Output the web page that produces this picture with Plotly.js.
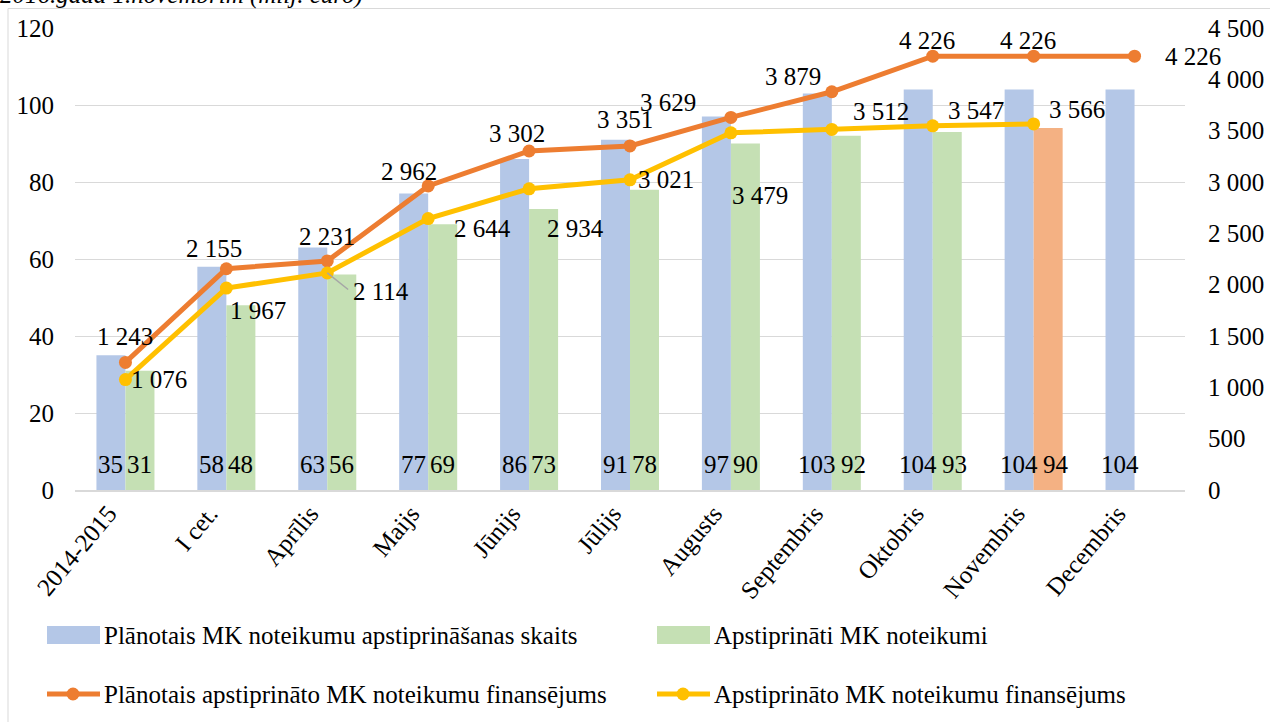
<!DOCTYPE html>
<html>
<head>
<meta charset="utf-8">
<script src="https://cdn.plot.ly/plotly-3.0.1.min.js"></script>
<style>
html,body{margin:0;padding:0;background:#fff;}
#chart{width:1270px;height:722px;}
</style>
</head>
<body>
<div id="chart"></div>
<script>
// ---- data ----
const categories = ["2014-2015","I cet.","Aprīlis","Maijs","Jūnijs","Jūlijs","Augusts","Septembris","Oktobris","Novembris","Decembris"];
const plannedCount = [35,58,63,77,86,91,97,103,104,104,104];
const approvedCount = [31,48,56,69,73,78,90,92,93,94,null];
const plannedFinance = [1243,2155,2231,2962,3302,3351,3629,3879,4226,4226,4226];
const approvedFinance = [1076,1967,2114,2644,2934,3021,3479,3512,3547,3566,null];
const seriesNames = ["Plānotais MK noteikumu apstiprināšanas skaits","Apstiprināti MK noteikumi","Plānotais apstiprināto MK noteikumu finansējums","Apstiprināto MK noteikumu finansējums"];
const topNote = "2016.gada 1.novembrim (milj. euro)";

// ---- label placement (pixel offsets) ----
const plannedFinLabelShift = [[0,26],[-12,20],[0,24],[-19,14],[-12,17],[-5,26],[-63,15],[-39,15],[-6,16],[-6,16],[58,0]];
const approvedFinLabelShift = [[34,0],[32,-22],[54,-19],[54,-10],[46,-40],[36,0],[29,-63],[49,18],[43,15],[43,14]];

// ---- styles ----
const FONT = '"Liberation Serif", "Times New Roman", serif';
const FS = 25;
const C_BLUE = "#B4C7E7", C_GREEN = "#C5E0B4", C_ORBAR = "#F4B183", C_OR = "#ED7D31", C_YEL = "#FFC000";

// plot area geometry in pixels
const L = 75, R = 1185, T = 28, B = 490;
const px = x => (x - L) / (R - L);
const py = y => (B - y) / (B - T);

function fmt(v){ return String(v).replace(/\B(?=(\d{3})+(?!\d))/g, " "); }

const greenColors = approvedCount.map((v,i) => categories[i] === "Novembris" ? C_ORBAR : C_GREEN);
const approvedFinCats = categories.filter((c,i)=>approvedFinance[i]!==null);
const approvedFinVals = approvedFinance.filter(v=>v!==null);

const traces = [
  {type:"bar", x:categories, y:plannedCount, name:seriesNames[0], marker:{color:C_BLUE}, yaxis:"y", showlegend:false},
  {type:"bar", x:categories, y:approvedCount, name:seriesNames[1], marker:{color:greenColors}, yaxis:"y", showlegend:false},
  {type:"scatter", mode:"lines+markers", x:categories, y:plannedFinance, name:seriesNames[2], yaxis:"y2",
   line:{color:C_OR, width:5}, marker:{color:C_OR, size:13}, showlegend:false},
  {type:"scatter", mode:"lines+markers", x:approvedFinCats, y:approvedFinVals, name:seriesNames[3], yaxis:"y2",
   line:{color:C_YEL, width:5}, marker:{color:C_YEL, size:13}, showlegend:false}
];

const annotations = [];
const tf = {family:FONT, size:FS, color:"#000"};
// bar value labels
const barLabelY = 6.5;
plannedCount.forEach((v,i)=>{
  if(v===null) return;
  annotations.push({x:categories[i], y:barLabelY, xref:"x", yref:"y", text:String(v), showarrow:false, xshift:-14.5, font:tf});
});
approvedCount.forEach((v,i)=>{
  if(v===null) return;
  annotations.push({x:categories[i], y:barLabelY, xref:"x", yref:"y", text:String(v), showarrow:false, xshift:plannedCount[i]>=100?22:14.5, font:tf});
});
// line labels
plannedFinance.forEach((v,i)=>{
  const s = plannedFinLabelShift[i];
  annotations.push({x:categories[i], y:v, xref:"x", yref:"y2", text:fmt(v), showarrow:false, xshift:s[0], yshift:s[1], font:tf});
});
approvedFinance.forEach((v,i)=>{
  if(v===null) return;
  const s = approvedFinLabelShift[i];
  if(categories[i]==="Aprīlis"){
    annotations.push({x:categories[i], y:v, xref:"x", yref:"y2", text:fmt(v), showarrow:true, arrowhead:0, arrowwidth:1.5,
      arrowcolor:"#A6A6A6", ax:s[0]-30, ay:-s[1], xanchor:"left", standoff:0, startstandoff:4, font:tf});
  } else {
    annotations.push({x:categories[i], y:v, xref:"x", yref:"y2", text:fmt(v), showarrow:false, xshift:s[0], yshift:s[1], font:tf});
  }
});
// top cut-off note
annotations.push({x:px(-2), y:py(11), xref:"paper", yref:"paper", xanchor:"left", yanchor:"bottom", text:"<i>"+topNote+"</i>",
  showarrow:false, font:tf});

// custom legend + outer border
const shapes = [];
shapes.push({type:"rect", xref:"paper", yref:"paper", x0:px(8), x1:px(1300), y0:py(760), y1:py(8.5), line:{color:"#D9D9D9", width:1}, fillcolor:"rgba(0,0,0,0)", layer:"below"});
const legendRows = [
  {x:47, y:635, kind:"rect", color:C_BLUE, name:seriesNames[0]},
  {x:657, y:635, kind:"rect", color:C_GREEN, name:seriesNames[1]},
  {x:47, y:694, kind:"line", color:C_OR, name:seriesNames[2]},
  {x:657, y:694, kind:"line", color:C_YEL, name:seriesNames[3]}
];
legendRows.forEach(e=>{
  if(e.kind==="rect"){
    shapes.push({type:"rect", xref:"paper", yref:"paper", x0:px(e.x), x1:px(e.x+53), y0:py(e.y+9), y1:py(e.y-9), line:{width:0}, fillcolor:e.color});
  } else {
    shapes.push({type:"line", xref:"paper", yref:"paper", x0:px(e.x), x1:px(e.x+53), y0:py(e.y), y1:py(e.y), line:{width:5, color:e.color}});
    shapes.push({type:"circle", xref:"paper", yref:"paper", x0:px(e.x+26-6.5), x1:px(e.x+26+6.5), y0:py(e.y+6.5), y1:py(e.y-6.5), line:{width:0}, fillcolor:e.color});
  }
  annotations.push({x:px(e.x+55), y:py(e.y), xref:"paper", yref:"paper", xanchor:"left", yanchor:"middle", text:e.name, showarrow:false, font:tf});
});

const layout = {
  width:1270, height:722,
  margin:{l:L, r:1270-R, t:T, b:722-B, pad:0},
  paper_bgcolor:"#fff", plot_bgcolor:"#fff",
  font:{family:FONT, size:FS, color:"#000"},
  separators:", ",
  barmode:"group", bargap:0.425, bargroupgap:0,
  showlegend:false,
  xaxis:{type:"category", range:[-0.5,10.5], autorange:false, tickangle:-50, showgrid:false, showline:true, linecolor:"#D9D9D9", linewidth:2,
    ticks:"", ticklabelstandoff:-3, ticklabelshift:-17, tickfont:{family:FONT, size:FS, color:"#000"}, fixedrange:true},
  yaxis:{range:[0,120], autorange:false, dtick:20, showgrid:true, gridcolor:"#D9D9D9", gridwidth:1, zeroline:false,
    ticks:"", ticklabelstandoff:20, tickfont:{family:FONT, size:FS, color:"#000"}, fixedrange:true},
  yaxis2:{range:[0,4500], autorange:false, dtick:500, overlaying:"y", side:"right", showgrid:false, zeroline:false,
    tickformat:",d", ticks:"", ticklabelstandoff:22, tickfont:{family:FONT, size:FS, color:"#000"}, fixedrange:true},
  annotations:annotations,
  shapes:shapes
};

Plotly.newPlot("chart", traces, layout, {displayModeBar:false, staticPlot:true});
</script>
</body>
</html>
